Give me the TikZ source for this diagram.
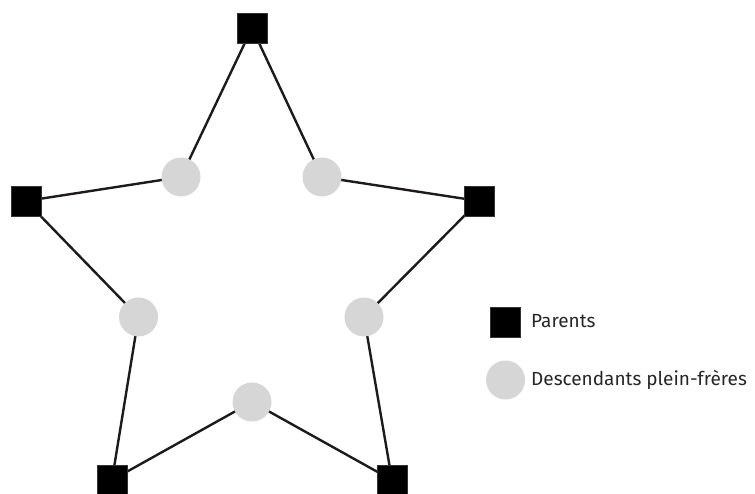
\documentclass[tikz,border=0pt]{standalone}
\usepackage{fontspec}
\setmainfont{Fira Sans}
\definecolor{kidgray}{RGB}{214,214,214}
\definecolor{linecol}{RGB}{30,26,27}
\tikzset{
  parent/.style={draw=black!80, line width=0.5pt, fill=black, minimum size=30pt, inner sep=0pt, rectangle},
  kid/.style={fill=kidgray, circle, minimum size=39pt, inner sep=0pt},
  link/.style={draw=linecol, line width=2.4pt},
  legendtext/.style={anchor=base west, font=\fontsize{19}{22}\selectfont, text=black!85, inner sep=0pt}
}
\begin{document}
\begin{tikzpicture}[x=1pt,y=-1pt]
\useasboundingbox (0,0) rectangle (755,494);
% coordinates of nodes
\coordinate (cT) at (252,28);
\coordinate (cL) at (26,201);
\coordinate (cR) at (479,201);
\coordinate (cBL) at (112,480);
\coordinate (cBR) at (392,480);
\coordinate (kTL) at (181,177);
\coordinate (kTR) at (322,177);
\coordinate (kML) at (138.5,317);
\coordinate (kMR) at (364,317);
\coordinate (kB) at (252,402);
% connectors
\draw[link] (cT) -- (kTR) -- (cR) -- (kMR) -- (cBR) -- (kB) -- (cBL) -- (kML) -- (cL) -- (kTL) -- cycle;
% nodes
\node[parent] (pT) at (cT) {};
\node[parent] (pL) at (cL) {};
\node[parent] (pR) at (cR) {};
\node[parent] (pBL) at (cBL) {};
\node[parent] (pBR) at (cBR) {};
\node[kid] (dTL) at (kTL) {};
\node[kid] (dTR) at (kTR) {};
\node[kid] (dML) at (kML) {};
\node[kid] (dMR) at (kMR) {};
\node[kid] (dB) at (kB) {};
% legend
\node[parent] (legP) at (505,322) {};
\node[kid] (legK) at (505.5,380) {};
\node[legendtext] (legPt) at (531,327.5) {Parents};
\node[legendtext] (legKt) at (531,385.5) {Descendants plein-frères};
\end{tikzpicture}
\end{document}
